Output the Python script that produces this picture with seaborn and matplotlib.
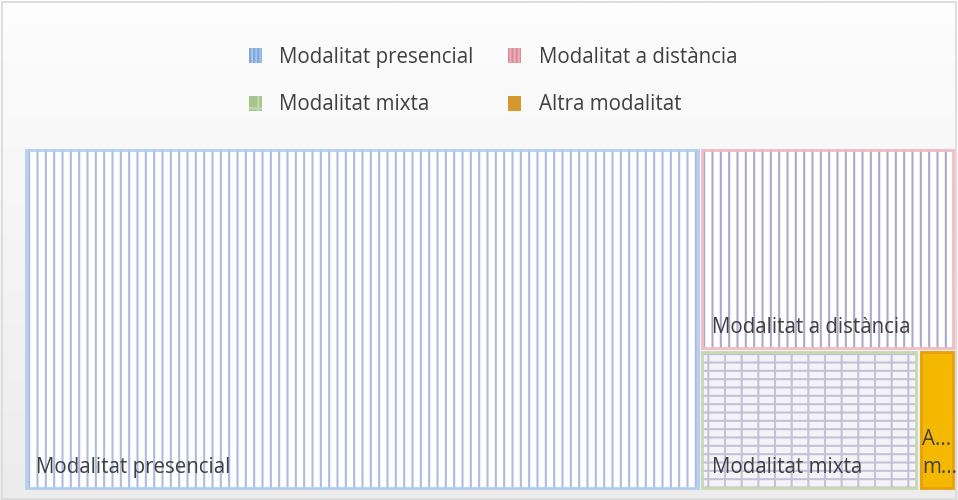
import numpy as np
import matplotlib
matplotlib.use("Agg")
import matplotlib.pyplot as plt
import seaborn as sns
from matplotlib.patches import Rectangle, Patch

sns.set_theme(style="white")
plt.rcParams['font.family'] = ['Open Sans', 'DejaVu Sans']
plt.rcParams['hatch.linewidth'] = 1.5

# Data (share of each modality, %)
categories = ["Modalitat presencial", "Modalitat a distància", "Modalitat mixta", "Altra modalitat"]
values = [72.6, 16.2, 9.6, 1.6]
box_labels = ["Modalitat presencial", "Modalitat a distància", "Modalitat mixta", "A...\nm..."]

fills = ["#ffffff", "#ffffff", "#f4f4f8", "#f5b800"]
hatch_colors = ["#aebbdd", "#ada8c9", "#c4c1d8", "#f5b800"]
hatches = ["||", "||", "+-", None]
borders = ["#b3cff0", "#f2bcc6", "#c6dab2", "#e8a010"]
legend_colors = ["#7fa6dc", "#dc8a98", "#a8c490", "#d4982c"]
legend_hatch = ["#a9c4ea", "#e9b0ba", "#c4d8b0", "#d4982c"]


def slice_layout(vals, x, y, w, h, vertical=True):
    total = sum(vals)
    if len(vals) == 1:
        return [(x, y, w, h)]
    frac = vals[0] / total
    if vertical:
        r = (x, y, w * frac, h)
        rest = slice_layout(vals[1:], x + w * frac, y, w * (1 - frac), h, False)
    else:
        r = (x, y + h * (1 - frac), w, h * frac)
        rest = slice_layout(vals[1:], x, y, w, h * (1 - frac), True)
    return [r] + rest


W, H = 958, 500
fig = plt.figure(figsize=(W / 100, H / 100), dpi=100)

# background gradient
bg = fig.add_axes([0, 0, 1, 1], zorder=-10)
grad = np.linspace(1.0, 0.0, 256).reshape(-1, 1)
cmap = matplotlib.colors.LinearSegmentedColormap.from_list("g", ["#ececec", "#fdfdfd"])
bg.imshow(grad, aspect="auto", cmap=cmap, extent=[0, 1, 0, 1])
bg.add_patch(Rectangle((0.002, 0.003), 0.996, 0.994, fill=False, edgecolor="#d9d9d9", lw=1.2,
                       transform=bg.transAxes))
bg.set_axis_off()

ax = fig.add_axes([24 / W, 10 / H, 931 / W, 342 / H])
ax.set_xlim(0, 1)
ax.set_ylim(0, 1)
ax.set_axis_off()

px = 1 / 931
py = 1 / 342
rects = slice_layout(values, 0, 0, 1, 1, True)
for i, (x, y, w, h) in enumerate(rects):
    gx, gy = 1.2 * px, 1.2 * py
    x0, y0, w0, h0 = x + gx, y + gy, w - 2 * gx, h - 2 * gy
    ax.add_patch(Rectangle((x0, y0), w0, h0, facecolor=fills[i], edgecolor=hatch_colors[i],
                           hatch=hatches[i], lw=0))
    ax.add_patch(Rectangle((x0 + 1.0 * px, y0 + 1.0 * py), w0 - 2.0 * px, h0 - 2.0 * py,
                           fill=False, edgecolor=borders[i], lw=2.0))
    if i < 3:
        ax.text(x0 + 11 * px, y0 + 11 * py, box_labels[i], fontsize=14.8, color="#404040",
                ha="left", va="bottom")
    else:
        ax.text(x0 + 2 * px, y0 + 11 * py, box_labels[i], fontsize=14.8, color="#404040",
                ha="left", va="bottom", linespacing=1.4)

handles = [Patch(facecolor=legend_colors[i], edgecolor=legend_hatch[i],
                 hatch=("||||" if i < 2 else ("+" if i == 2 else None)), lw=0)
           for i in range(4)]
order = [0, 2, 1, 3]
leg = fig.legend([handles[i] for i in order], [categories[i] for i in order],
                 loc="center", bbox_to_anchor=(493 / W, 1 - 81 / H), ncol=2, frameon=False,
                 fontsize=14.8, handlelength=0.62, handleheight=0.75, handletextpad=0.85,
                 columnspacing=1.7, labelspacing=1.3)
for t in leg.get_texts():
    t.set_color("#404040")

fig.savefig("out.png", dpi=100)
